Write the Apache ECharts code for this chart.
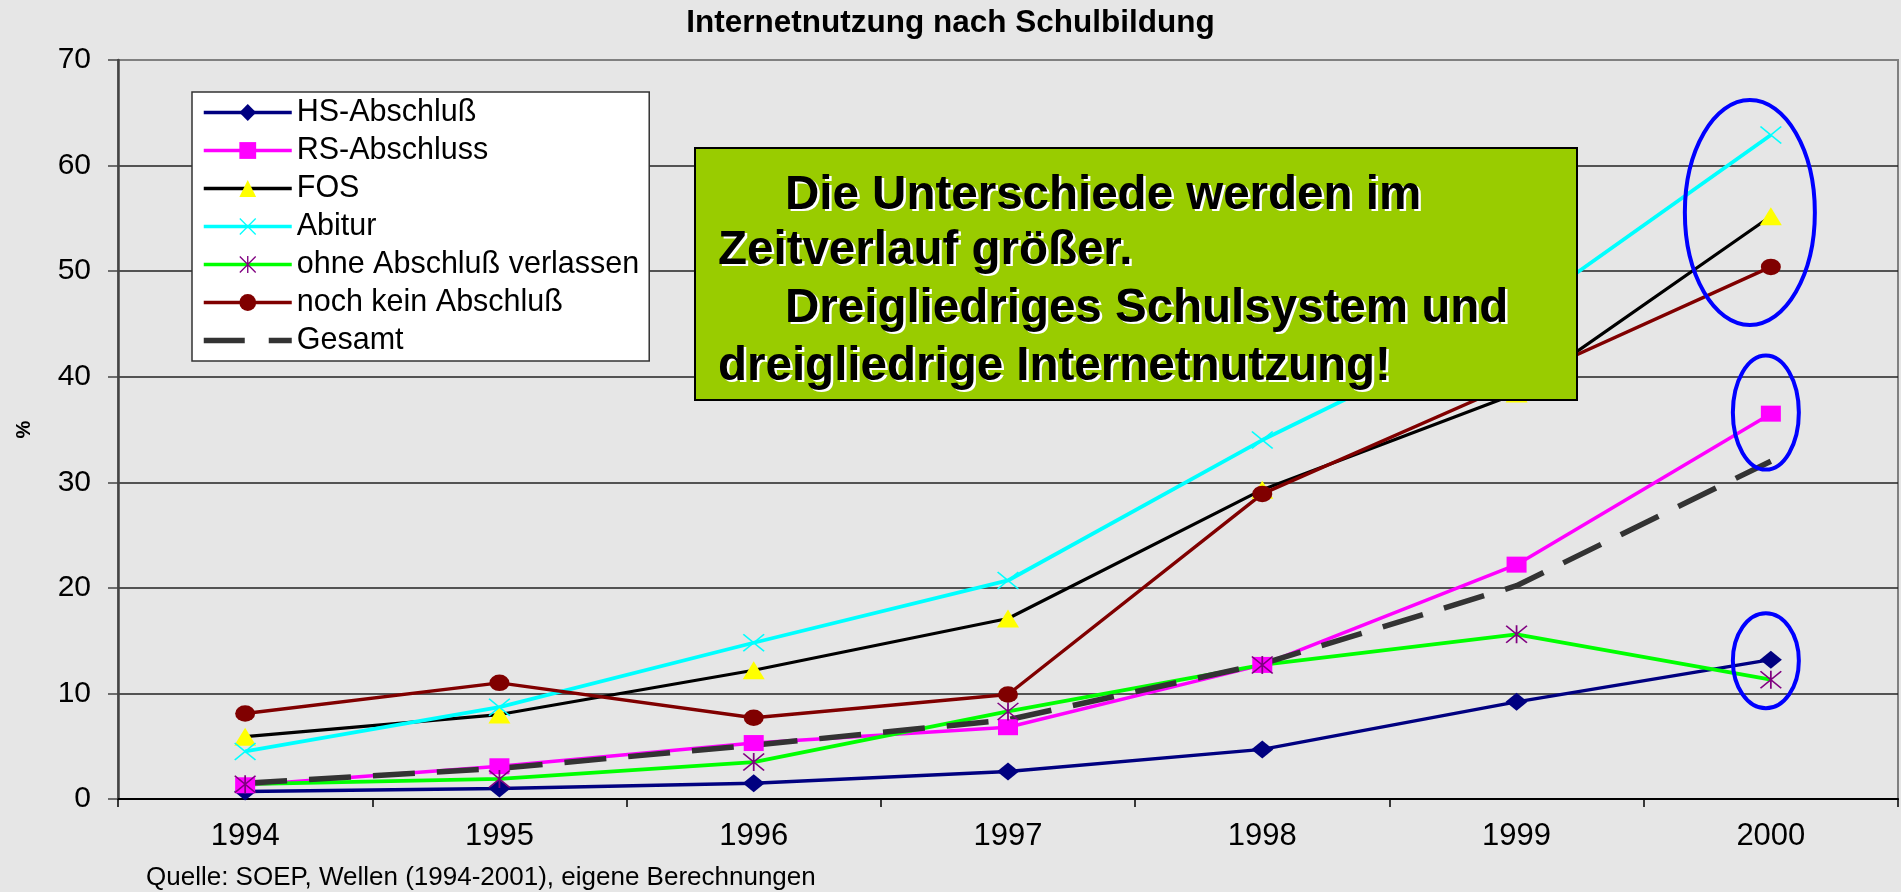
<!DOCTYPE html>
<html>
<head>
<meta charset="utf-8">
<title>Internetnutzung nach Schulbildung</title>
<script src="https://cdn.jsdelivr.net/npm/echarts@6/dist/echarts.min.js"></script>
<style>
html, body { margin: 0; padding: 0; background: #e6e6e6; }
#chart { width: 1901px; height: 892px; }
</style>
</head>
<body>
<div id="chart"></div>
<script>
// values (percent)
var years = ['1994', '1995', '1996', '1997', '1998', '1999', '2000'];
var hsAbschluss = [0.7, 1.0, 1.5, 2.6, 4.7, 9.2, 13.2];
var rsAbschluss = [1.3, 3.1, 5.3, 6.8, 12.7, 22.2, 36.5];
var fos = [5.9, 8.0, 12.2, 17.1, 29.3, 38.4, 55.2];
var abitur = [4.5, 8.7, 14.8, 20.7, 34.0, 45.8, 62.9];
var ohneAbschluss = [1.4, 1.9, 3.5, 8.3, 12.7, 15.6, 11.3];
var nochKein = [8.1, 11.0, 7.7, 9.9, 28.9, 39.5, 50.4];
var gesamt = [1.5, 2.9, 5.1, 7.5, 12.8, 20.2, 32.0];
var yMin = 0, yMax = 70, yStep = 10;

var boxLines = [
  'Die Unterschiede werden im',
  'Zeitverlauf größer.',
  'Dreigliedriges Schulsystem und',
  'dreigliedrige Internetnutzung!'
];
// rings drawn round the 2000 values: value range they span
var rings = [
  { year: '2000', lo: 44.9, hi: 66.2, left: -86, right: 44 },
  { year: '2000', lo: 31.2, hi: 42.0, left: -38, right: 28 },
  { year: '2000', lo: 8.6, hi: 17.6, left: -38, right: 28 }
];

var FONT = 'Arial, "Liberation Sans", sans-serif';
var crossPath = 'path://M1.1,0L20,18.9L18.9,20L0,1.1Z M18.9,0L20,1.1L1.1,20L0,18.9Z';
var starPath = 'path://M1.1,0L20,18.9L18.9,20L0,1.1Z M18.9,0L20,1.1L1.1,20L0,18.9Z M9.2,0L10.8,0L10.8,20L9.2,20Z';

function line(name, data, lineColor, symbol, size, symbolColor, width) {
  return {
    name: name,
    type: 'line',
    data: data,
    symbol: symbol,
    symbolSize: size,
    showSymbol: true,
    showAllSymbol: true,
    lineStyle: { color: lineColor, width: width },
    itemStyle: { color: symbolColor },
    emphasis: { disabled: true }
  };
}

var chart = echarts.init(document.getElementById('chart'));
var option = {
  animation: false,
  backgroundColor: '#e6e6e6',
  title: {
    text: 'Internetnutzung nach Schulbildung',
    left: 'center',
    top: 2,
    textStyle: { fontFamily: FONT, fontSize: 31.5, fontWeight: 'bold', color: '#000' }
  },
  legend: {
    orient: 'vertical',
    left: 192,
    top: 92,
    padding: [5, 10, 5, 10],
    itemWidth: 88,
    itemHeight: 21,
    itemGap: 7,
    backgroundColor: '#fff',
    borderColor: '#333',
    borderWidth: 1.5,
    selectedMode: false,
    lineStyle: { width: 3.5 },
    textStyle: { fontFamily: FONT, fontSize: 30.5, color: '#000' },
    data: [
      'HS-Abschluß', 'RS-Abschluss', 'FOS', 'Abitur', 'ohne Abschluß verlassen', 'noch kein Abschluß',
      { name: 'Gesamt', icon: 'path://M0,0h41v5.5h-41z M65,0h23v5.5h-23z', itemStyle: { color: '#333', borderWidth: 0 } }
    ]
  },
  grid: {
    left: 118,
    right: 3,
    top: 60,
    bottom: 93,
    show: true,
    borderColor: '#808080',
    borderWidth: 2,
    containLabel: false,
    outerBoundsMode: 'none'
  },
  xAxis: {
    type: 'category',
    data: years,
    boundaryGap: true,
    axisLine: { lineStyle: { color: '#000', width: 2 } },
    axisTick: { show: true, length: 8, lineStyle: { color: '#000', width: 1.5 } },
    axisLabel: { fontFamily: FONT, fontSize: 31, color: '#000', margin: 22 },
    splitLine: { show: false }
  },
  yAxis: {
    type: 'value',
    min: yMin,
    max: yMax,
    interval: yStep,
    name: '%',
    nameLocation: 'middle',
    nameGap: 84,
    nameTextStyle: { fontFamily: FONT, fontSize: 20, fontWeight: 'bold', color: '#000' },
    axisLine: { show: true, lineStyle: { color: '#444', width: 2.5 } },
    axisTick: { show: true, length: 10, lineStyle: { color: '#444', width: 1.5 } },
    axisLabel: { fontFamily: FONT, fontSize: 30, color: '#000', margin: 27 },
    splitLine: {
      show: true,
      lineStyle: { color: ['#222', '#222', '#222', '#222', '#222', '#222', '#222', '#808080'], width: 1.5 }
    }
  },
  series: [
    line('HS-Abschluß', hsAbschluss, '#000080', 'diamond', [22, 18], '#000080', 3.5),
    line('RS-Abschluss', rsAbschluss, '#ff00ff', 'rect', [20, 16], '#ff00ff', 3.5),
    line('FOS', fos, '#000000', 'triangle', [22, 18], '#ffff00', 3.2),
    line('Abitur', abitur, '#00ffff', crossPath, [22, 18], '#00ffff', 3.8),
    line('ohne Abschluß verlassen', ohneAbschluss, '#00ff00', starPath, [22, 18], '#800080', 3.8),
    line('noch kein Abschluß', nochKein, '#800000', 'circle', [20, 16.5], '#800000', 3.4),
    {
      name: 'Gesamt',
      type: 'line',
      data: gesamt,
      symbol: 'none',
      lineStyle: { color: '#333333', width: 5.5, type: [42, 22] },
      itemStyle: { color: '#333333' },
      emphasis: { disabled: true }
    }
  ]
};
chart.setOption(option);

// annotations: green text box, source note, blue rings
var elements = [];
elements.push({
  type: 'rect', z: 100,
  shape: { x: 695, y: 148, width: 882, height: 252 },
  style: { fill: '#99cc00', stroke: '#000', lineWidth: 2 }
});
var lineX = [785, 718, 785, 718];
var lineY = [196, 251, 309, 367];
boxLines.forEach(function (t, i) {
  [['#fff', 2.5, 2], ['#000', 0, 0]].forEach(function (c) {
    elements.push({
      type: 'text', z: 101,
      x: lineX[i] + c[1], y: lineY[i] + c[2],
      style: {
        text: t, fill: c[0], align: 'left', verticalAlign: 'middle',
        font: 'bold 47.5px Arial, "Liberation Sans", sans-serif'
      }
    });
  });
});
elements.push({
  type: 'text', z: 100, x: 146, y: 878,
  style: {
    text: 'Quelle: SOEP, Wellen (1994-2001), eigene Berechnungen',
    fill: '#000', align: 'left', verticalAlign: 'middle',
    font: '26px Arial, "Liberation Sans", sans-serif'
  }
});
rings.forEach(function (r) {
  var idx = years.indexOf(r.year);
  var top = chart.convertToPixel({ gridIndex: 0 }, [idx, r.hi]);
  var bottom = chart.convertToPixel({ gridIndex: 0 }, [idx, r.lo]);
  var x0 = top[0] + r.left, x1 = top[0] + r.right;
  elements.push({
    type: 'ellipse', z: 100,
    shape: { cx: (x0 + x1) / 2, cy: (top[1] + bottom[1]) / 2, rx: (x1 - x0) / 2, ry: (bottom[1] - top[1]) / 2 },
    style: { fill: 'none', stroke: '#0000ff', lineWidth: 4 }
  });
});
chart.setOption({ graphic: { elements: elements } });
</script>
</body>
</html>
